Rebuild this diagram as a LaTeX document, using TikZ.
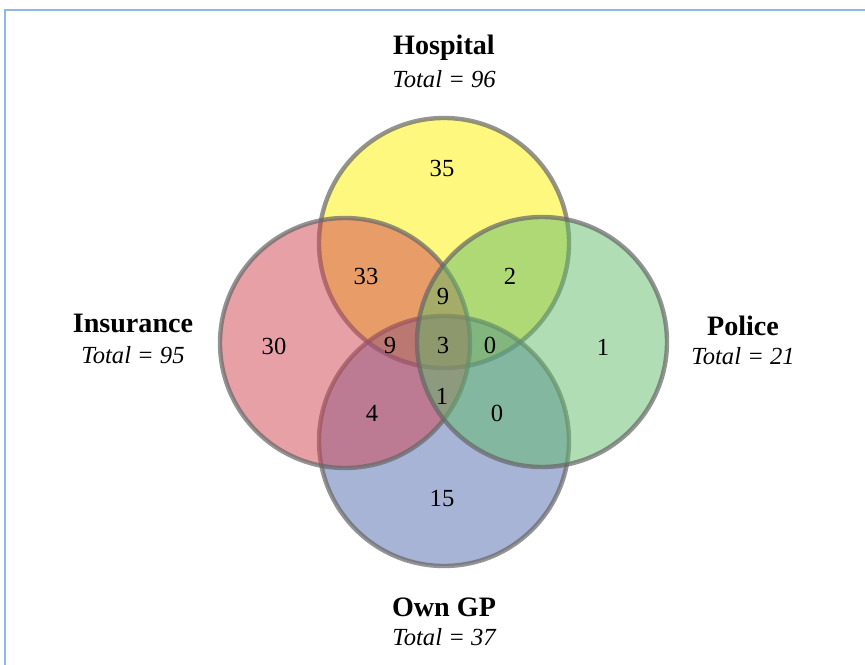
\documentclass[tikz,border=0pt]{standalone}
\usepackage{fontspec}
\setmainfont{Liberation Serif}
\usepackage{tikz}

\definecolor{hospyellow}{RGB}{255,242,0}
\definecolor{insred}{RGB}{210,65,80}
\definecolor{polgreen}{RGB}{97,187,105}
\definecolor{gpblue}{RGB}{79,105,173}
\definecolor{frameblue}{RGB}{141,184,232}

\begin{document}
\begin{tikzpicture}[x=0.02cm,y=-0.02cm,
    set/.style={draw=black!60,draw opacity=0.7,line width=2.5pt,fill opacity=0.5},
    head/.style={font=\fontsize{16}{18}\selectfont\bfseries},
    total/.style={font=\fontsize{14}{16}\selectfont\itshape},
    num/.style={font=\fontsize{14}{16}\selectfont}]
			\useasboundingbox (0,0) rectangle (865,665);
			\draw[frameblue,line width=1pt] (5,665) -- (5,10) -- (865,10);
			% the four sets
			\filldraw[set,fill=hospyellow] (444,243) circle (125);
			\filldraw[set,fill=gpblue] (444,441) circle (125);
			\filldraw[set,fill=insred] (345,343) circle (125);
			\filldraw[set,fill=polgreen] (542,342) circle (125);
			% set names
			\node[head] (hosp) at (444,48) {Hospital};
			\node[total] (hospt) at (444,79) {Total = 96};
			\node[head] (ins) at (133,323) {Insurance};
			\node[total] (inst) at (133,355) {Total = 95};
			\node[head] (pol) at (743,326) {Police};
			\node[total] (polt) at (743,356) {Total = 21};
			\node[head] (gp) at (444,607) {Own GP};
			\node[total] (gpt) at (444,637) {Total = 37};
			% counts
			\node[num] (h) at (442,168) {35};
			\node[num] (hi) at (366,276) {33};
			\node[num] (hp) at (510,276) {2};
			\node[num] (hip) at (443,296) {9};
			\node[num] (i) at (274,346) {30};
			\node[num] (hig) at (390,345) {9};
			\node[num] (all) at (443,345) {3};
			\node[num] (hpg) at (490,345) {0};
			\node[num] (p) at (603,347) {1};
			\node[num] (ig) at (372,413) {4};
			\node[num] (ipg) at (442,396) {1};
			\node[num] (pg) at (497,413) {0};
			\node[num] (g) at (442,498) {15};
		\end{tikzpicture}
\end{document}
